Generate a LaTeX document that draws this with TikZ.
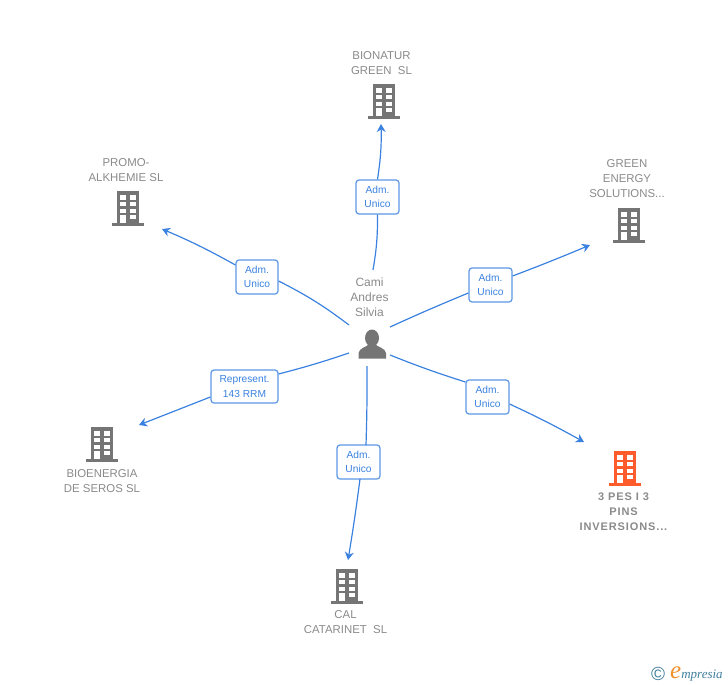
\documentclass[tikz,border=0pt]{standalone}
\usepackage{fontspec}
\setmainfont{Liberation Sans}
\newfontfamily\spacedfont[LetterSpace=8]{Liberation Sans}
\newfontfamily\logofont{Liberation Serif}
\usetikzlibrary{arrows.meta, positioning}
\definecolor{linkblue}{HTML}{3B82E0}
\definecolor{boxblue}{HTML}{5C97E6}
\definecolor{bldgray}{HTML}{757575}
\definecolor{textgray}{HTML}{8A8A8A}
\definecolor{bldorange}{HTML}{FF5C2E}
\definecolor{logoblue}{HTML}{3F7F9C}
\definecolor{logoorange}{HTML}{F0902A}
\tikzset{
    role/.style={draw=boxblue, fill=white, rounded corners=3pt, line width=1.2pt, text=linkblue, font=\fontsize{10.2}{14.5}\selectfont, align=center, inner sep=0pt},
    caption/.style={text=textgray, font=\fontsize{11.4}{15}\selectfont, align=center, inner sep=0pt},
    link/.style={linkblue, line width=1.2pt},
    tolink/.style={link, -{Stealth[length=8pt,width=9pt]}},
    pics/building/.style={code={
        \fill[#1] (-11,-17) rectangle (11,15);
        \fill[#1] (-16,15) rectangle (16,17.5);
        \foreach \wy in {-12.7,-6,0.7} {
            \fill[white] (-8,\wy) rectangle (-2,\wy+4.2);
            \fill[white] (2,\wy) rectangle (8,\wy+4.2);
        }
        \fill[white] (-8,6.7) rectangle (-2,15);
        \fill[white] (2,6.7) rectangle (8,11);
    }},
}
\begin{document}
\begin{tikzpicture}[x=1pt, y=-1pt]
    \useasboundingbox (0,0) rectangle (728,685);

    % person
    \node[caption, font=\fontsize{12}{15}\selectfont] (cami) at (369.5,297) {Cami\\Andres\\Silvia};
    \fill[bldgray] (372,338) ellipse (7 and 8.5);
    \fill[bldgray] (358.5,358.5) -- (358.5,353) .. controls (359,348) and (367,347) .. (369,344) -- (375,344) .. controls (377,347) and (385.5,348) .. (386,353) -- (386,358.5) -- cycle;

    % companies
    \pic at (384,101) {building=bldgray};
    \pic at (128,208) {building=bldgray};
    \pic at (629,225) {building=bldgray};
    \pic at (102,444) {building=bldgray};
    \pic at (347,586) {building=bldgray};
    \pic at (625,468) {building=bldorange};

    \node[caption] (bionatur) at (381.5,63) {BIONATUR\\GREEN\ \ SL};
    \node[caption] (promo) at (126,170) {PROMO-\\ALKHEMIE SL};
    \node[caption] (green) at (627,179) {GREEN\\ENERGY\\SOLUTIONS...};
    \node[caption] (bioenergia) at (102,481) {BIOENERGIA\\DE SEROS SL};
    \node[caption] (cal) at (345.5,622.5) {CAL\\CATARINET\ \ SL};
    \node[caption, font=\fontsize{11}{15}\spacedfont\bfseries] (pes) at (623.5,512) {3 PES I 3\\PINS\\INVERSIONS...};

    % roles
    \node[role, minimum width=43pt, minimum height=34pt] (r1) at (377.5,197) {Adm.\\Unico};
    \node[role, minimum width=42pt, minimum height=34pt] (r2) at (257,277) {Adm.\\Unico};
    \node[role, minimum width=43pt, minimum height=34pt] (r3) at (490.5,285) {Adm.\\Unico};
    \node[role, minimum width=43pt, minimum height=34pt] (r4) at (487.5,397) {Adm.\\Unico};
    \node[role, minimum width=43pt, minimum height=34pt] (r5) at (358.5,462) {Adm.\\Unico};
    \node[role, minimum width=67pt, minimum height=33pt] (r6) at (244.5,386.5) {Represent.\\143 RRM};

    % free ends
    \coordinate (s1) at (373,270);
    \coordinate (s2) at (349,325);
    \coordinate (s3) at (390,327);
    \coordinate (s4) at (390,355);
    \coordinate (s5) at (367,366);
    \coordinate (s6) at (349,353);
    \coordinate (e1) at (381,124);
    \coordinate (e2) at (162,229);
    \coordinate (e3) at (590,245);
    \coordinate (e4) at (584,442);
    \coordinate (e5) at (348,560);
    \coordinate (e6) at (139,425);
    \coordinate (t5) at (366,445);
    \coordinate (b5) at (360,479);

    % links
    \draw[link] (s1) to[bend right=5] (r1.south);
    \draw[tolink] (r1.north) to[bend right=5] (e1);
    \draw[link] (s2) to[bend right=5] (r2.east |- 0,281);
    \draw[tolink] (r2.west |- 0,265) to[bend right=3] (e2);
    \draw[link] (s3) to[bend left=1] (r3.west |- 0,293);
    \draw[tolink] (r3.east |- 0,276) to[bend right=1] (e3);
    \draw[link] (s4) to[bend right=2] (r4.west |- 0,382);
    \draw[tolink] (r4.east |- 0,404) to[bend left=2] (e4);
    \draw[link] (s5) to[bend left=1] (t5);
    \draw[tolink] (b5) to[bend left=1] (e5);
    \draw[link] (s6) to[bend left=2] (r6.east |- 0,374);
    \draw[tolink] (r6.west |- 0,397) -- (e6);

    % logo
    \node[text=logoblue, inner sep=0pt, font=\fontsize{19}{19}\selectfont] (copy) at (658,674) {©};
    \node[inner sep=0pt, anchor=west, font=\fontsize{13}{13}\logofont\itshape, text=logoblue] (logo) at (670,674) {\textcolor{logoorange}{\fontsize{25}{25}\selectfont e}mpresia};
\end{tikzpicture}
\end{document}
